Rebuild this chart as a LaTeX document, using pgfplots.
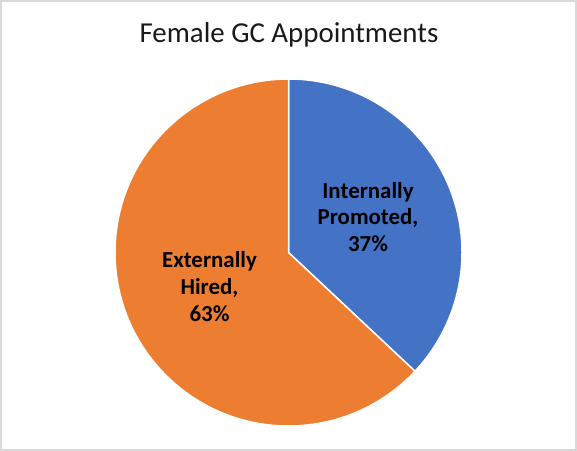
\documentclass[border=0pt]{standalone}
\usepackage{fontspec}
\setmainfont{Carlito}
\usepackage{pgfplots}
\usepackage{pgfplotstable}
\pgfplotsset{compat=1.18}

\definecolor{pieblue}{HTML}{4472C4}
\definecolor{pieorange}{HTML}{ED7D31}
\definecolor{frame}{HTML}{D9D9D9}

% share of each appointment type, percent
\pgfplotstableread{
label      value
Internally 37
Externally 63
}\piedata

\pgfplotstablegetelem{0}{value}\of\piedata
\pgfmathsetmacro\angA{90-3.6*\pgfplotsretval}
\pgfplotstablegetelem{1}{value}\of\piedata
\pgfmathsetmacro\angB{\angA-3.6*\pgfplotsretval}

\begin{document}
\begin{tikzpicture}
\begin{axis}[
    hide axis,
    scale only axis,
    width=577bp, height=451bp,
    xmin=0, xmax=577, ymin=0, ymax=451,
    clip=false,
]
    % slices, clockwise from 12 o'clock
    \filldraw[fill=pieblue, draw=white, line width=1.5bp, line join=round]
        (axis cs:288.5,198.5) -- ++(90:173.5bp)
        arc[start angle=90, end angle=\angA, radius=173.5bp] -- cycle;
    \filldraw[fill=pieorange, draw=white, line width=1.5bp, line join=round]
        (axis cs:288.5,198.5) -- ++(\angA:173.5bp)
        arc[start angle=\angA, end angle=\angB, radius=173.5bp] -- cycle;

    % frame
    \draw[frame, line width=2bp] (axis cs:1,1) rectangle (axis cs:576,450);

    % title
    \node[anchor=base, font=\fontsize{29}{33}\selectfont, text=black!90]
        at (axis cs:289,408) {Female GC Appointments};

    % data labels
    \begin{scope}[every node/.style={anchor=base, font=\fontsize{23}{26}\selectfont\bfseries}]
        \node at (axis cs:368,252) {Internally};
        \node at (axis cs:368,226) {Promoted,};
        \node at (axis cs:368,199) {37\%};
        \node at (axis cs:209.5,183) {Externally};
        \node at (axis cs:209.5,156) {Hired,};
        \node at (axis cs:209.5,129) {63\%};
    \end{scope}
\end{axis}
\end{tikzpicture}
\end{document}
